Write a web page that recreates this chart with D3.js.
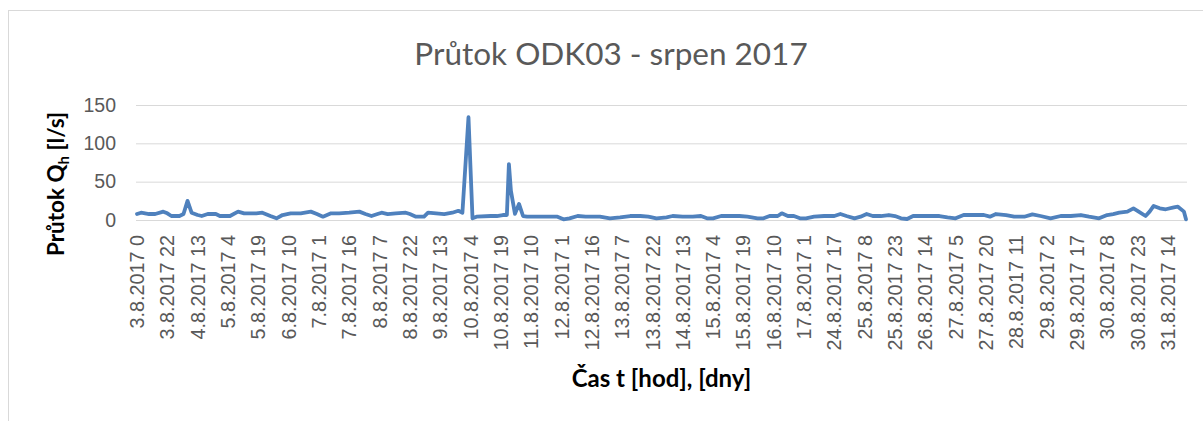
<!DOCTYPE html>
<html>
<head>
    <meta charset="UTF-8">
    <style>
        body { margin: 0; background: #fff; }
        svg { display: block; font-family: Lato, "Open Sans", sans-serif; }
    </style>
</head>
<body>
    <svg></svg>
    <script src="https://d3js.org/d3.v7.min.js"></script>
    <script>
        // hourly categories, only every 15th one is labelled
        const nHours = 520;
        const tickEvery = 15;
        const tickLabels = [
            "3.8.2017 0", "3.8.2017 22", "4.8.2017 13", "5.8.2017 4", "5.8.2017 19",
            "6.8.2017 10", "7.8.2017 1", "7.8.2017 16", "8.8.2017 7", "8.8.2017 22",
            "9.8.2017 13", "10.8.2017 4", "10.8.2017 19", "11.8.2017 10", "12.8.2017 1",
            "12.8.2017 16", "13.8.2017 7", "13.8.2017 22", "14.8.2017 13", "15.8.2017 4",
            "15.8.2017 19", "16.8.2017 10", "17.8.2017 1", "24.8.2017 17", "25.8.2017 8",
            "25.8.2017 23", "26.8.2017 14", "27.8.2017 5", "27.8.2017 20", "28.8.2017 11",
            "29.8.2017 2", "29.8.2017 17", "30.8.2017 8", "30.8.2017 23", "31.8.2017 14"
        ];
        const yTicks = [0, 50, 100, 150];

        // readings: category index -> flow [l/s]
        const hourIdx = [
            0, 2, 6, 9, 13, 15, 17, 21, 23, 25, 27, 30, 32, 35, 39, 41, 46, 50, 53, 59,
            62, 66, 69, 72, 76, 81, 86, 89, 92, 96, 100, 105, 110, 113, 116, 119, 121, 124, 128, 133,
            135, 138, 142, 144, 148, 152, 156, 159, 161, 164, 166, 168, 175, 178, 181, 183, 184, 185, 187, 189,
            191, 193, 196, 202, 208, 211, 214, 218, 222, 229, 234, 239, 244, 249, 253, 257, 262, 265, 270, 275,
            279, 282, 285, 289, 293, 298, 302, 307, 310, 313, 317, 319, 322, 325, 328, 331, 335, 340, 345, 348,
            351, 355, 358, 361, 364, 368, 372, 375, 378, 381, 384, 391, 397, 401, 405, 409, 414, 419, 422, 425,
            430, 434, 439, 443, 447, 452, 457, 462, 467, 471, 476, 480, 483, 486, 490, 493, 495, 499, 501, 503,
            506, 509, 513, 515, 518, 519
        ];
        const flow = [
            7.8, 9.5, 7.8, 7.8, 10.9, 8.7, 5.2, 5.2, 7.8, 25, 9.5, 6.5, 5.2, 7.8, 7.8, 5.2, 5.2, 10.9, 8.7, 8.7,
            9.5, 5.2, 2.2, 6.5, 8.7, 8.7, 10.9, 7.8, 4.3, 8.7, 8.7, 9.5, 10.9, 7.8, 5.2, 7.8, 9.5, 7.8, 8.7, 9.5,
            7.8, 4.3, 4.3, 9.5, 8.7, 7.8, 9.5, 12, 9.5, 134, 2.2, 4.3, 5.2, 5.2, 6.5, 6.5, 73, 38, 8, 21,
            5.2, 4.3, 4.3, 4.3, 4.3, 0.9, 2.2, 5.2, 4.3, 4.3, 2.2, 3.5, 5.2, 5.2, 4.3, 2.2, 3.5, 5.2, 4.3, 4.3,
            5.2, 2.2, 2.2, 5.2, 5.2, 5.2, 4.3, 2.2, 2.2, 5.2, 5.2, 8.7, 5.2, 5.2, 2.2, 2.2, 4.3, 5.2, 5.2, 7.8,
            5.2, 2.2, 4.3, 7.8, 5.2, 5.2, 6.5, 5.2, 2.2, 1.3, 5.2, 5.2, 5.2, 3.5, 2.2, 6.5, 6.5, 6.5, 4.3, 7.8,
            6.5, 4.3, 4.3, 7.4, 5.2, 2.2, 5.2, 5.2, 6.5, 4.3, 2.2, 6.5, 7.8, 9.5, 10.9, 15.2, 12, 5.2, 10.9, 18.3,
            15.2, 14, 16.5, 17.4, 10.9, 0.9
        ];

        let width = 1203, height = 421;
        let plot = { left: 136, right: 1187, top: 105, bottom: 220 };
        const textColor = "#595959";

        let svg = d3.select("svg")
            .attr("width", width)
            .attr("height", height);

        // chart frame
        svg.append("rect")
            .attr("x", 8.5).attr("y", 10.5)
            .attr("width", 1220).attr("height", 440)
            .attr("fill", "#fff")
            .attr("stroke", "#d9d9d9");

        let x = d3.scaleBand()
            .domain(d3.range(nHours))
            .range([plot.left, plot.right]);

        let y = d3.scaleLinear()
            .domain([0, 150])
            .range([plot.bottom, plot.top]);

        // y axis + gridlines
        let yAxis = svg.append("g")
            .attr("transform", "translate(" + plot.left + ",0)")
            .call(d3.axisLeft(y).tickValues(yTicks)
                .tickSize(-(plot.right - plot.left))
                .tickPadding(20));
        yAxis.select(".domain").remove();
        yAxis.selectAll("line").attr("stroke", "#d9d9d9");
        yAxis.selectAll("text")
            .attr("fill", textColor)
            .style("font-size", "19.5px");

        // x axis
        let xAxis = svg.append("g")
            .attr("transform", "translate(0," + plot.bottom + ")")
            .call(d3.axisBottom(x)
                .tickValues(d3.range(0, nHours, tickEvery))
                .tickFormat(i => tickLabels[i / tickEvery])
                .tickSize(0));
        xAxis.select(".domain").attr("stroke", "#d9d9d9");
        xAxis.selectAll("text")
            .attr("transform", "rotate(-90)")
            .attr("text-anchor", "end")
            .attr("x", -15)
            .attr("y", 0)
            .attr("dy", "0.36em")
            .attr("fill", textColor)
            .style("font-size", "19.8px");

        // the series
        let line = d3.line()
            .x((d, i) => x(d) + x.bandwidth() / 2)
            .y((d, i) => y(flow[i]));

        svg.append("path")
            .datum(hourIdx)
            .attr("d", line)
            .attr("fill", "none")
            .attr("stroke", "#4f81bd")
            .attr("stroke-width", 3.8)
            .attr("stroke-linejoin", "round")
            .attr("stroke-linecap", "round");

        // titles
        svg.append("text")
            .attr("x", 611).attr("y", 65)
            .attr("text-anchor", "middle")
            .attr("fill", textColor)
            .style("font-size", "31.5px")
            .text("Průtok ODK03 - srpen 2017");

        let yTitle = svg.append("text")
            .attr("transform", "translate(64,184) rotate(-90)")
            .attr("text-anchor", "middle")
            .attr("fill", "#000")
            .style("font-size", "22.5px")
            .style("font-weight", "bold");
        yTitle.append("tspan").text("Průtok Q");
        yTitle.append("tspan").attr("dy", 5).style("font-size", "15px").text("h");
        yTitle.append("tspan").attr("dy", -5).text(" [l/s]");

        svg.append("text")
            .attr("x", (plot.left + plot.right) / 2).attr("y", 387)
            .attr("text-anchor", "middle")
            .attr("fill", "#000")
            .style("font-size", "24px")
            .style("font-weight", "bold")
            .text("Čas t [hod], [dny]");
    </script>
</body>
</html>
